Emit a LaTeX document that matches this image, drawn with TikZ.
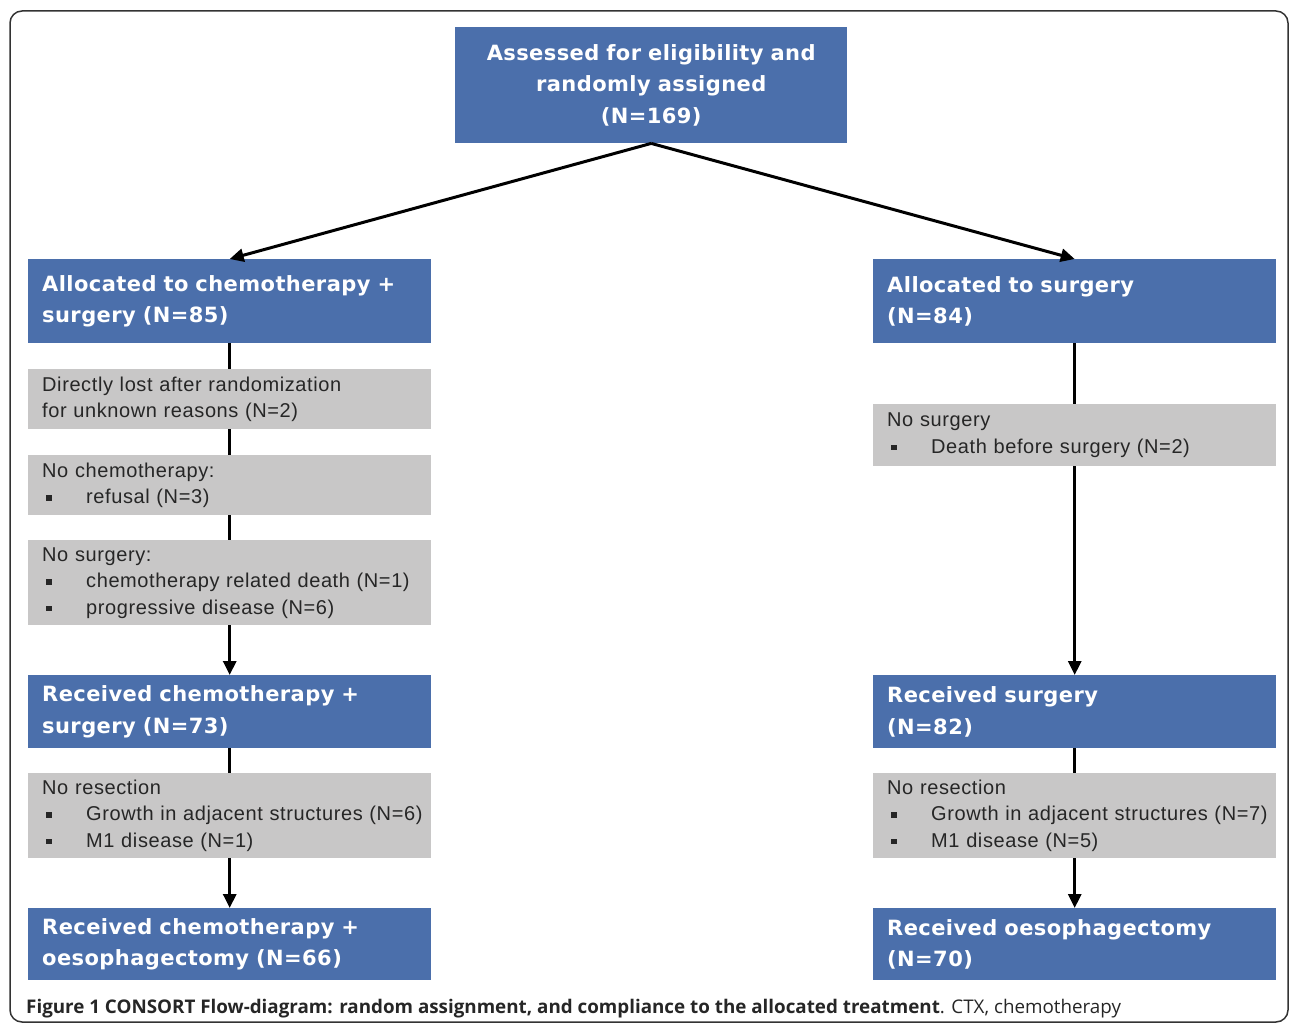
\documentclass[tikz,border=0pt]{standalone}
\usepackage{fontspec}
\newfontfamily\stagefont[LetterSpace=2]{DejaVu Sans}
\newfontfamily\notefont[LetterSpace=3]{Liberation Sans}
\newfontfamily\capfont{Open Sans}
\usetikzlibrary{arrows.meta}
\definecolor{stageblue}{RGB}{75,111,171}
\definecolor{notegray}{RGB}{200,199,199}
\newcommand{\itemmark}{\makebox[44pt][l]{\hspace{4pt}\rule[3pt]{5.5pt}{5.5pt}}}
\tikzset{
% Blue boxes for the stages, grey boxes for the losses
stage box/.style={rectangle, fill=stageblue, text=white, inner xsep=14pt, inner ysep=0pt,
    font=\stagefont\bfseries\fontsize{21}{31.5}\selectfont, align=left, anchor=north west},
note box/.style={rectangle, fill=notegray, text=black!85, inner xsep=14pt, inner ysep=0pt,
    font=\notefont\fontsize{20}{26.5}\selectfont, align=left, anchor=north west},
flow arrow/.style={line width=3pt, -{Triangle[length=14pt,width=13pt]}}
}

\begin{document}
\begin{tikzpicture}[x=1pt, y=-1pt]
\useasboundingbox (0,0) rectangle (1290,1024);
\draw[rounded corners=12pt, line width=1.5pt, black!80] (10,11) rectangle (1288,1022);

% stages
\node[stage box, align=center, text width=364pt, minimum height=116pt] (assess) at (455,27)
    {Assessed for eligibility and\\ randomly assigned\\ (N=169)};
\node[stage box, text width=375pt, minimum height=84pt] (alloc chemo) at (28,259)
    {Allocated to chemotherapy +\\ surgery (N=85)};
\node[stage box, text width=375pt, minimum height=84pt] (alloc surg) at (873,259)
    {Allocated to surgery\\ (N=84)};
\node[stage box, text width=375pt, minimum height=73pt] (rec chemo) at (28,675)
    {Received chemotherapy +\\ surgery (N=73)};
\node[stage box, text width=375pt, minimum height=73pt] (rec surg) at (873,675)
    {Received surgery\\ (N=82)};
\node[stage box, text width=375pt, minimum height=72pt] (oes chemo) at (28,908)
    {Received chemotherapy +\\ oesophagectomy (N=66)};
\node[stage box, text width=375pt, minimum height=72pt] (oes surg) at (873,908)
    {Received oesophagectomy\\ (N=70)};

% connectors
\draw[flow arrow] (assess.south) -- (alloc chemo.north);
\draw[flow arrow] (assess.south) -- (alloc surg.north);
\draw[flow arrow] (alloc chemo.south) -- (rec chemo.north);
\draw[flow arrow] (alloc surg.south) -- (rec surg.north);
\draw[flow arrow] (rec chemo.south) -- (oes chemo.north);
\draw[flow arrow] (rec surg.south) -- (oes surg.north);

% losses
\node[note box, text width=375pt, minimum height=60pt] (lost) at (28,369)
    {Directly lost after randomization\\ for unknown reasons (N=2)};
\node[note box, text width=375pt, minimum height=60pt] (no chemo) at (28,455)
    {No chemotherapy:\\ \itemmark refusal (N=3)};
\node[note box, text width=375pt, minimum height=85pt] (no surg chemo) at (28,540)
    {No surgery:\\ \itemmark chemotherapy related death (N=1)\\ \itemmark progressive disease (N=6)};
\node[note box, text width=375pt, minimum height=62pt] (no surg) at (873,404)
    {No surgery\\ \itemmark Death before surgery (N=2)};
\node[note box, text width=375pt, minimum height=85pt] (no res chemo) at (28,773)
    {No resection\\ \mbox{\itemmark Growth in adjacent structures (N=6)}\\ \itemmark M1 disease (N=1)};
\node[note box, text width=375pt, minimum height=85pt] (no res surg) at (873,773)
    {No resection\\ \mbox{\itemmark Growth in adjacent structures (N=7)}\\ \itemmark M1 disease (N=5)};

% caption
\node[anchor=base west, inner sep=0pt, font=\capfont\fontsize{18.8}{22}\selectfont, text=black!85] (caption) at (26,1013)
    {\textbf{Figure 1 CONSORT Flow-diagram: random assignment, and compliance to the allocated treatment}. CTX, chemotherapy};
\end{tikzpicture}
\end{document}
